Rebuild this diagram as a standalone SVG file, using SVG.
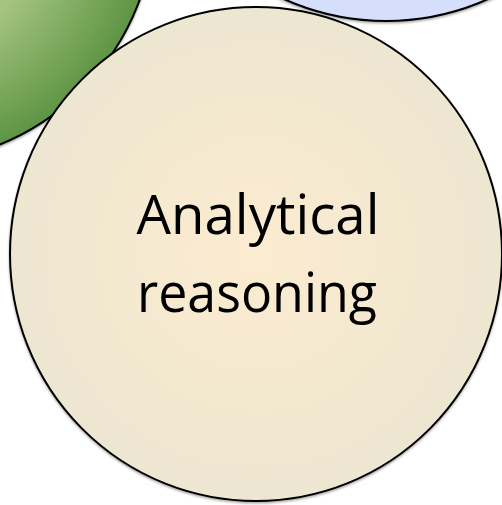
<svg xmlns="http://www.w3.org/2000/svg" width="502" height="505" viewBox="0 0 502 505">
  <defs>
    <radialGradient id="gGreen" cx="-94" cy="-86" r="249" gradientUnits="userSpaceOnUse">
      <stop offset="0" stop-color="#c2d9a3"/>
      <stop offset="0.55" stop-color="#a3c37e"/>
      <stop offset="1" stop-color="#5e9444"/>
    </radialGradient>
    <radialGradient id="gBeige" cx="0.5" cy="0.5" r="0.5">
      <stop offset="0" stop-color="#fcecd0"/>
      <stop offset="1" stop-color="#ede6d1"/>
    </radialGradient>
    <filter id="shadow" x="-10%" y="-10%" width="120%" height="120%">
      <feDropShadow dx="0" dy="1.5" stdDeviation="1.2" flood-color="#000" flood-opacity="0.35"/>
    </filter>
  </defs>
  <style>
    .node { stroke: #000; stroke-width: 2; }
    .label { font-family: "Open Sans", "Noto Sans", sans-serif; font-size: 55px; fill: #000; text-anchor: middle; }
  </style>
  <g id="node-green">
    <circle class="node" cx="-94" cy="-86" r="249" fill="url(#gGreen)" filter="url(#shadow)"/>
  </g>
  <g id="node-blue">
    <circle class="node" cx="386" cy="-228" r="249" fill="#d5dffc" filter="url(#shadow)"/>
  </g>
  <g id="node-analytical">
    <ellipse class="node" cx="256" cy="254" rx="246" ry="247" fill="url(#gBeige)" filter="url(#shadow)"/>
    <text class="label" x="258" y="234" textLength="243" lengthAdjust="spacingAndGlyphs">Analytical</text>
    <text class="label" x="257" y="312" textLength="240" lengthAdjust="spacingAndGlyphs">reasoning</text>
  </g>
  <g id="connectors"/>
</svg>
